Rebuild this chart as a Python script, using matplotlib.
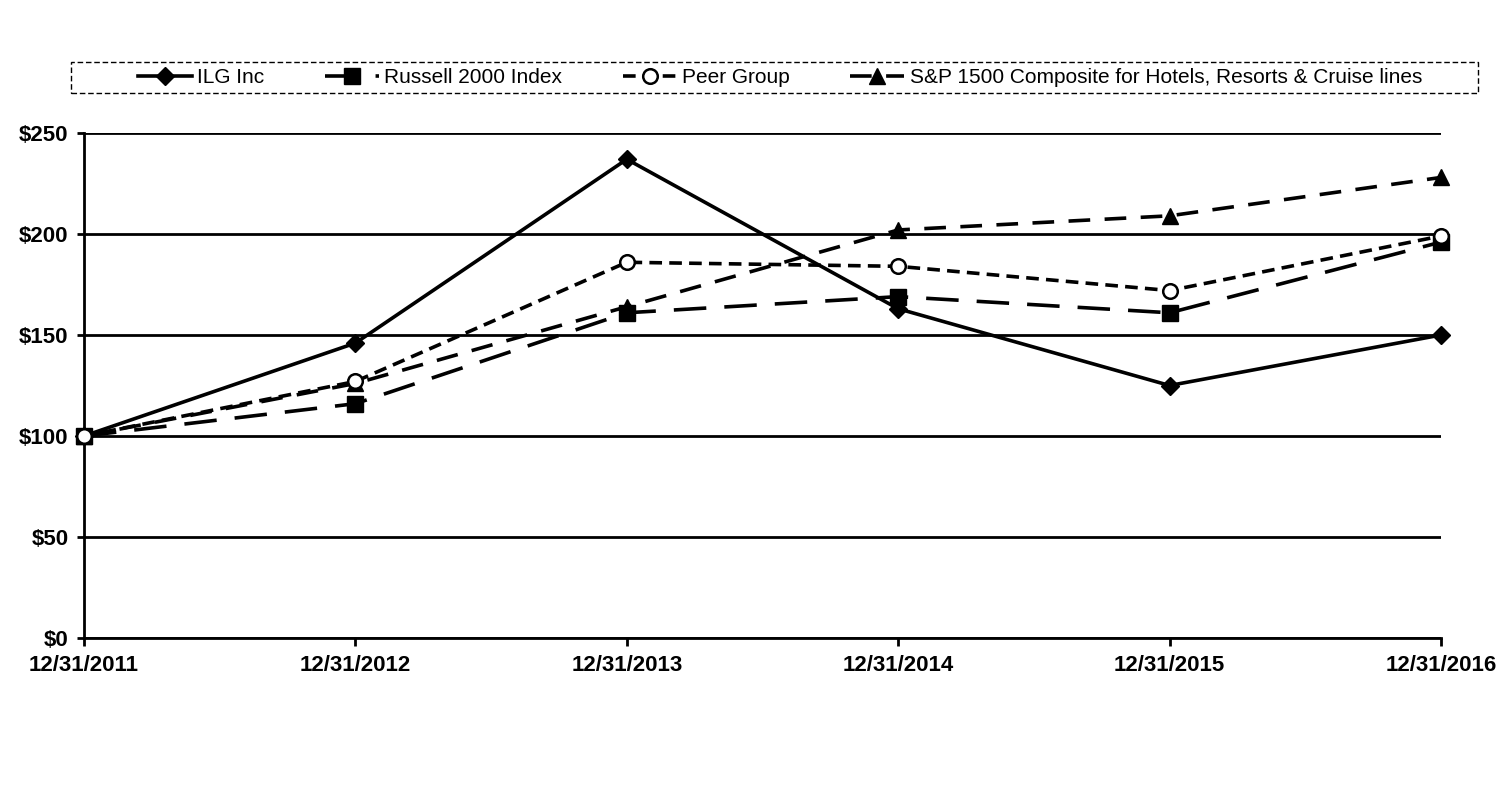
import matplotlib
matplotlib.use("Agg")
import matplotlib.pyplot as plt
from matplotlib.patches import Rectangle

plt.rcParams['font.family'] = ['Liberation Sans', 'DejaVu Sans']

dates = ["12/31/2011", "12/31/2012", "12/31/2013", "12/31/2014", "12/31/2015", "12/31/2016"]
ilg = [100, 146, 237, 163, 125, 150]
russell = [100, 116, 161, 169, 161, 196]
peer = [100, 127, 186, 184, 172, 199]
sp1500 = [100, 126, 164, 202, 209, 228]
yticks = [0, 50, 100, 150, 200, 250]
ytick_labels = ["$0", "$50", "$100", "$150", "$200", "$250"]

fig = plt.figure(figsize=(15.06, 8.08), dpi=100)
ax = fig.add_axes([84/1506, 1-638/808, (1441-84)/1506, (638-133)/808])

x = list(range(len(dates)))
lw = 2.6
ax.plot(x, ilg, color='black', lw=lw, linestyle='-', marker='D', markersize=9, label='ILG Inc', zorder=5)
ax.plot(x, russell, color='black', lw=lw, linestyle=(0, (9, 5)), marker='s', markersize=11.5, label='Russell 2000 Index', zorder=4)
ax.plot(x, peer, color='black', lw=lw, linestyle=(0, (3.5, 2)), marker='o', markersize=10.5,
        markerfacecolor='white', markeredgewidth=1.8, label='Peer Group', zorder=6)
ax.plot(x, sp1500, color='black', lw=lw, linestyle=(0, (6, 4)), marker='^', markersize=11.5, label='S&P 1500 Composite for Hotels, Resorts & Cruise lines', zorder=3)

ax.set_xlim(0, len(dates)-1)
ax.set_ylim(0, 250)
ax.set_yticks(yticks)
ax.set_yticklabels(ytick_labels, fontsize=16, fontweight='bold')
ax.set_xticks(x)
ax.set_xticklabels(dates, fontsize=16, fontweight='bold')
ax.grid(axis='y', color='black', lw=2)
ax.set_axisbelow(True)
for s in ['top', 'right']:
    ax.spines[s].set_visible(False)
for s in ['left', 'bottom']:
    ax.spines[s].set_linewidth(2)
ax.tick_params(axis='y', length=5, width=2, direction='out', pad=6)
ax.tick_params(axis='x', length=6, width=2, direction='out', pad=6)
for l in ax.get_lines():
    l.set_clip_on(False)

# legend box
fig.patches.append(Rectangle((71/1506, 1-93/808), (1478-71)/1506, (93-62)/808,
                             transform=fig.transFigure, fill=False, edgecolor='black',
                             lw=1, linestyle=(0, (4, 2))))
leg = fig.legend(loc='center', bbox_to_anchor=(780/1506, 1-77.5/808), ncol=4, frameon=False,
                 fontsize=15, handlelength=2.6, handletextpad=0.25, columnspacing=2.9,
                 borderaxespad=0, borderpad=0)

fig.savefig('out.png', dpi=100)
